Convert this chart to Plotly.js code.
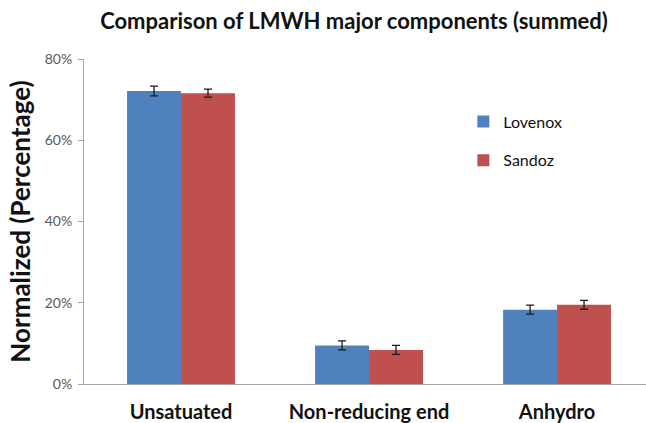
<!DOCTYPE html>
<html><head><meta charset="utf-8">
<script src="https://cdn.plot.ly/plotly-3.0.1.min.js"></script>
<style>html,body{margin:0;padding:0;background:#fff}#c{width:646px;height:423px}</style>
</head><body><div id="c"></div>
<script>
const categories = ["Unsatuated", "Non-reducing end", "Anhydro"];
const lovenox = [72.1, 9.5, 18.3];
const lovenoxErr = [1.2, 1.1, 1.1];
const sandoz = [71.6, 8.4, 19.5];
const sandozErr = [1.0, 1.1, 1.1];
const yTicks = [0, 20, 40, 60, 80];
const yTickText = ["0%", "20%", "40%", "60%", "80%"];

const ff = "Lato, 'Open Sans', sans-serif";
const traces = [
  {type:'bar', name:'Lovenox', x:categories, y:lovenox, legendgroup:'a',
   marker:{color:'#4F81BD'},
   error_y:{type:'data', array:lovenoxErr, visible:true, color:'#1a1a1a', thickness:1.3, width:4}},
  {type:'bar', name:'Sandoz', x:categories, y:sandoz, legendgroup:'b',
   marker:{color:'#C0504D'},
   error_y:{type:'data', array:sandozErr, visible:true, color:'#1a1a1a', thickness:1.3, width:4}}
];
const layout = {
  width:646, height:423,
  margin:{l:84, r:0, t:59, b:39},
  paper_bgcolor:'#fff', plot_bgcolor:'#fff',
  barmode:'group', bargap:0.426, bargroupgap:0,
  title:{text:'Comparison of LMWH major components (summed)', x:0.548, xanchor:'center', y:0.95, yanchor:'middle',
         font:{family:ff, size:22, color:'#111', weight:'bold'}},
  xaxis:{type:'category', range:[-0.516, 2.473], showline:true, linecolor:'#a6a6a6', linewidth:1,
         ticks:'', tickfont:{family:ff, size:20, color:'#111', weight:'bold'}, ticklabelstandoff:10,
         showgrid:false, zeroline:false, fixedrange:true},
  yaxis:{range:[0,80], tickvals:yTicks, ticktext:yTickText, showline:true, linecolor:'#a6a6a6', linewidth:1,
         ticks:'outside', ticklen:5, tickcolor:'#a6a6a6', showgrid:false, zeroline:false,
         tickfont:{family:ff, size:14, color:'#595959'}, ticklabelstandoff:3,
         title:{text:'Normalized (Percentage)', standoff:6, font:{family:ff, size:26, color:'#111', weight:'bold'}}},
  legend:{x:0.675, y:0.86, xanchor:'left', yanchor:'top', font:{family:ff, size:16, color:'#111'},
          tracegroupgap:15, traceorder:'grouped', bgcolor:'rgba(0,0,0,0)'},
  showlegend:true
};
Plotly.newPlot('c', traces, layout, {staticPlot:true});
</script></body></html>
